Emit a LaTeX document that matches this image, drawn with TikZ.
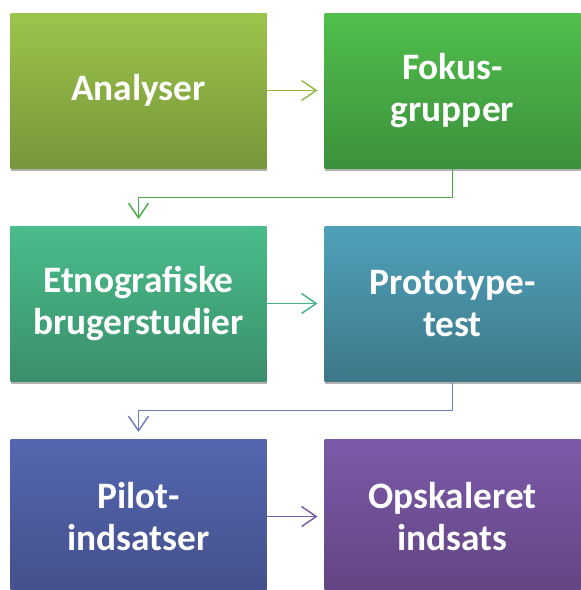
\documentclass[tikz,border=0pt]{standalone}
\usepackage{fontspec}
\setmainfont{Carlito}
\usetikzlibrary{arrows.meta,shadows}

\definecolor{analyseTop}{HTML}{9DC44B}
\definecolor{analyseBot}{HTML}{76963A}
\definecolor{fokusTop}{HTML}{50BF4C}
\definecolor{fokusBot}{HTML}{3C913C}
\definecolor{etnoTop}{HTML}{4ABD8C}
\definecolor{etnoBot}{HTML}{3A8F6A}
\definecolor{protoTop}{HTML}{4EA1B9}
\definecolor{protoBot}{HTML}{3E7889}
\definecolor{pilotTop}{HTML}{5566B1}
\definecolor{pilotBot}{HTML}{43508A}
\definecolor{skalaTop}{HTML}{7B5AA8}
\definecolor{skalaBot}{HTML}{624582}

\begin{document}
\begin{tikzpicture}[x=0.75pt,y=0.75pt,yscale=-1,xscale=1,
  boks/.style={minimum width=192pt,minimum height=116.25pt,inner sep=0pt,
    align=center,text=white,font=\fontsize{28}{31.5}\selectfont\bfseries,
    drop shadow={shadow xshift=0pt,shadow yshift=-2.5pt,opacity=0.3,fill=black}},
  pil/.style={line width=1.1pt,shorten >=5pt,
    -{Straight Barb[length=11pt,width=15pt,line width=1.1pt]}}]
\useasboundingbox (0,0) rectangle (581,590);

% Boxes
\node [boks,top color=analyseTop,bottom color=analyseBot] (analyse) at (138.5,90.5) {Analyser};
\node [boks,top color=fokusTop,bottom color=fokusBot] (fokus) at (452.5,90.5) {Fokus-\\grupper};
\node [boks,top color=etnoTop,bottom color=etnoBot] (etno) at (138.5,303.5) {Etnografiske\\brugerstudier};
\node [boks,top color=protoTop,bottom color=protoBot] (proto) at (452.5,303.5) {Prototype-\\test};
\node [boks,top color=pilotTop,bottom color=pilotBot] (pilot) at (138.5,516.5) {Pilot-\\indsatser};
\node [boks,top color=skalaTop,bottom color=skalaBot] (skala) at (452.5,516.5) {Opskaleret\\indsats};

% Arrows
\draw [pil,draw=analyseTop!95!black] (analyse) -- (fokus);
\draw [pil,draw=fokusTop!90!black] (fokus.south) -- ++(0,29) -| (etno.north);
\draw [pil,draw=etnoTop!95!black] (etno) -- (proto);
\draw [pil,draw=pilotTop!85!white] (proto.south) -- ++(0,29) -| (pilot.north);
\draw [pil,draw=skalaTop] (pilot) -- (skala);

\end{tikzpicture}
\end{document}
